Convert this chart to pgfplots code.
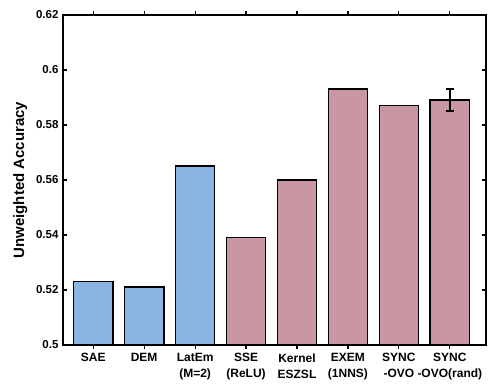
\documentclass[border=0pt]{standalone}
\usepackage{fontspec}
\setmainfont{Liberation Sans}
\usepackage{pgfplots}
\pgfplotsset{compat=1.18}
\definecolor{barblue}{RGB}{140,180,226}
\definecolor{barpink}{RGB}{201,150,164}
\begin{document}
\begin{tikzpicture}
\begin{axis}[
  scale only axis,
  width=423pt, height=330pt,
  xmin=0.407, xmax=8.71,
  ymin=0.5, ymax=0.62,
  ytick={0.5,0.52,0.54,0.56,0.58,0.6,0.62},
  xtick={1,2,3,4,5,6,7,8},
  xticklabels={SAE,DEM,{LatEm\\(M=2)},{SSE\\(ReLU)},{Kernel\\ESZSL},{EXEM\\(1NNS)},{SYNC\\-OVO},{SYNC\\-OVO(rand)}},
  xticklabel style={align=center, font=\fontsize{12}{16}\selectfont\bfseries, yshift=-1pt},
  yticklabel style={font=\fontsize{11.5}{13}\selectfont\bfseries, xshift=-1pt},
  /pgf/number format/assume math mode=true,
  /pgf/number format/fixed,
  /pgf/number format/precision=2,
  tick align=inside,
  major tick length=4pt,
  tick style={line width=1.2pt, black},
  axis line style={line width=1.6pt},
  ylabel={Unweighted Accuracy},
  ylabel style={font=\fontsize{15}{17}\selectfont\bfseries, yshift=2pt},
  ybar, bar width=0.77,
  every axis plot/.append style={line width=1.5pt, draw=black},
]
\addplot[fill=barblue, bar shift=0pt] coordinates {(1,0.523) (2,0.521) (3,0.565)};
\addplot[fill=barpink, bar shift=0pt] coordinates {(4,0.539) (5,0.560) (6,0.593) (7,0.587)};
\addplot[fill=barpink, bar shift=0pt,
  error bars/.cd, y dir=both, y explicit,
  error bar style={line width=1.6pt, black},
  error mark options={rotate=90, mark size=3.8pt, line width=1.6pt}]
  coordinates {(8,0.589) +- (0,0.004)};
\end{axis}
\path ([shift={(-63pt,-36pt)}]current axis.south west) rectangle ([shift={(10pt,15pt)}]current axis.north east);
\end{tikzpicture}
\end{document}
